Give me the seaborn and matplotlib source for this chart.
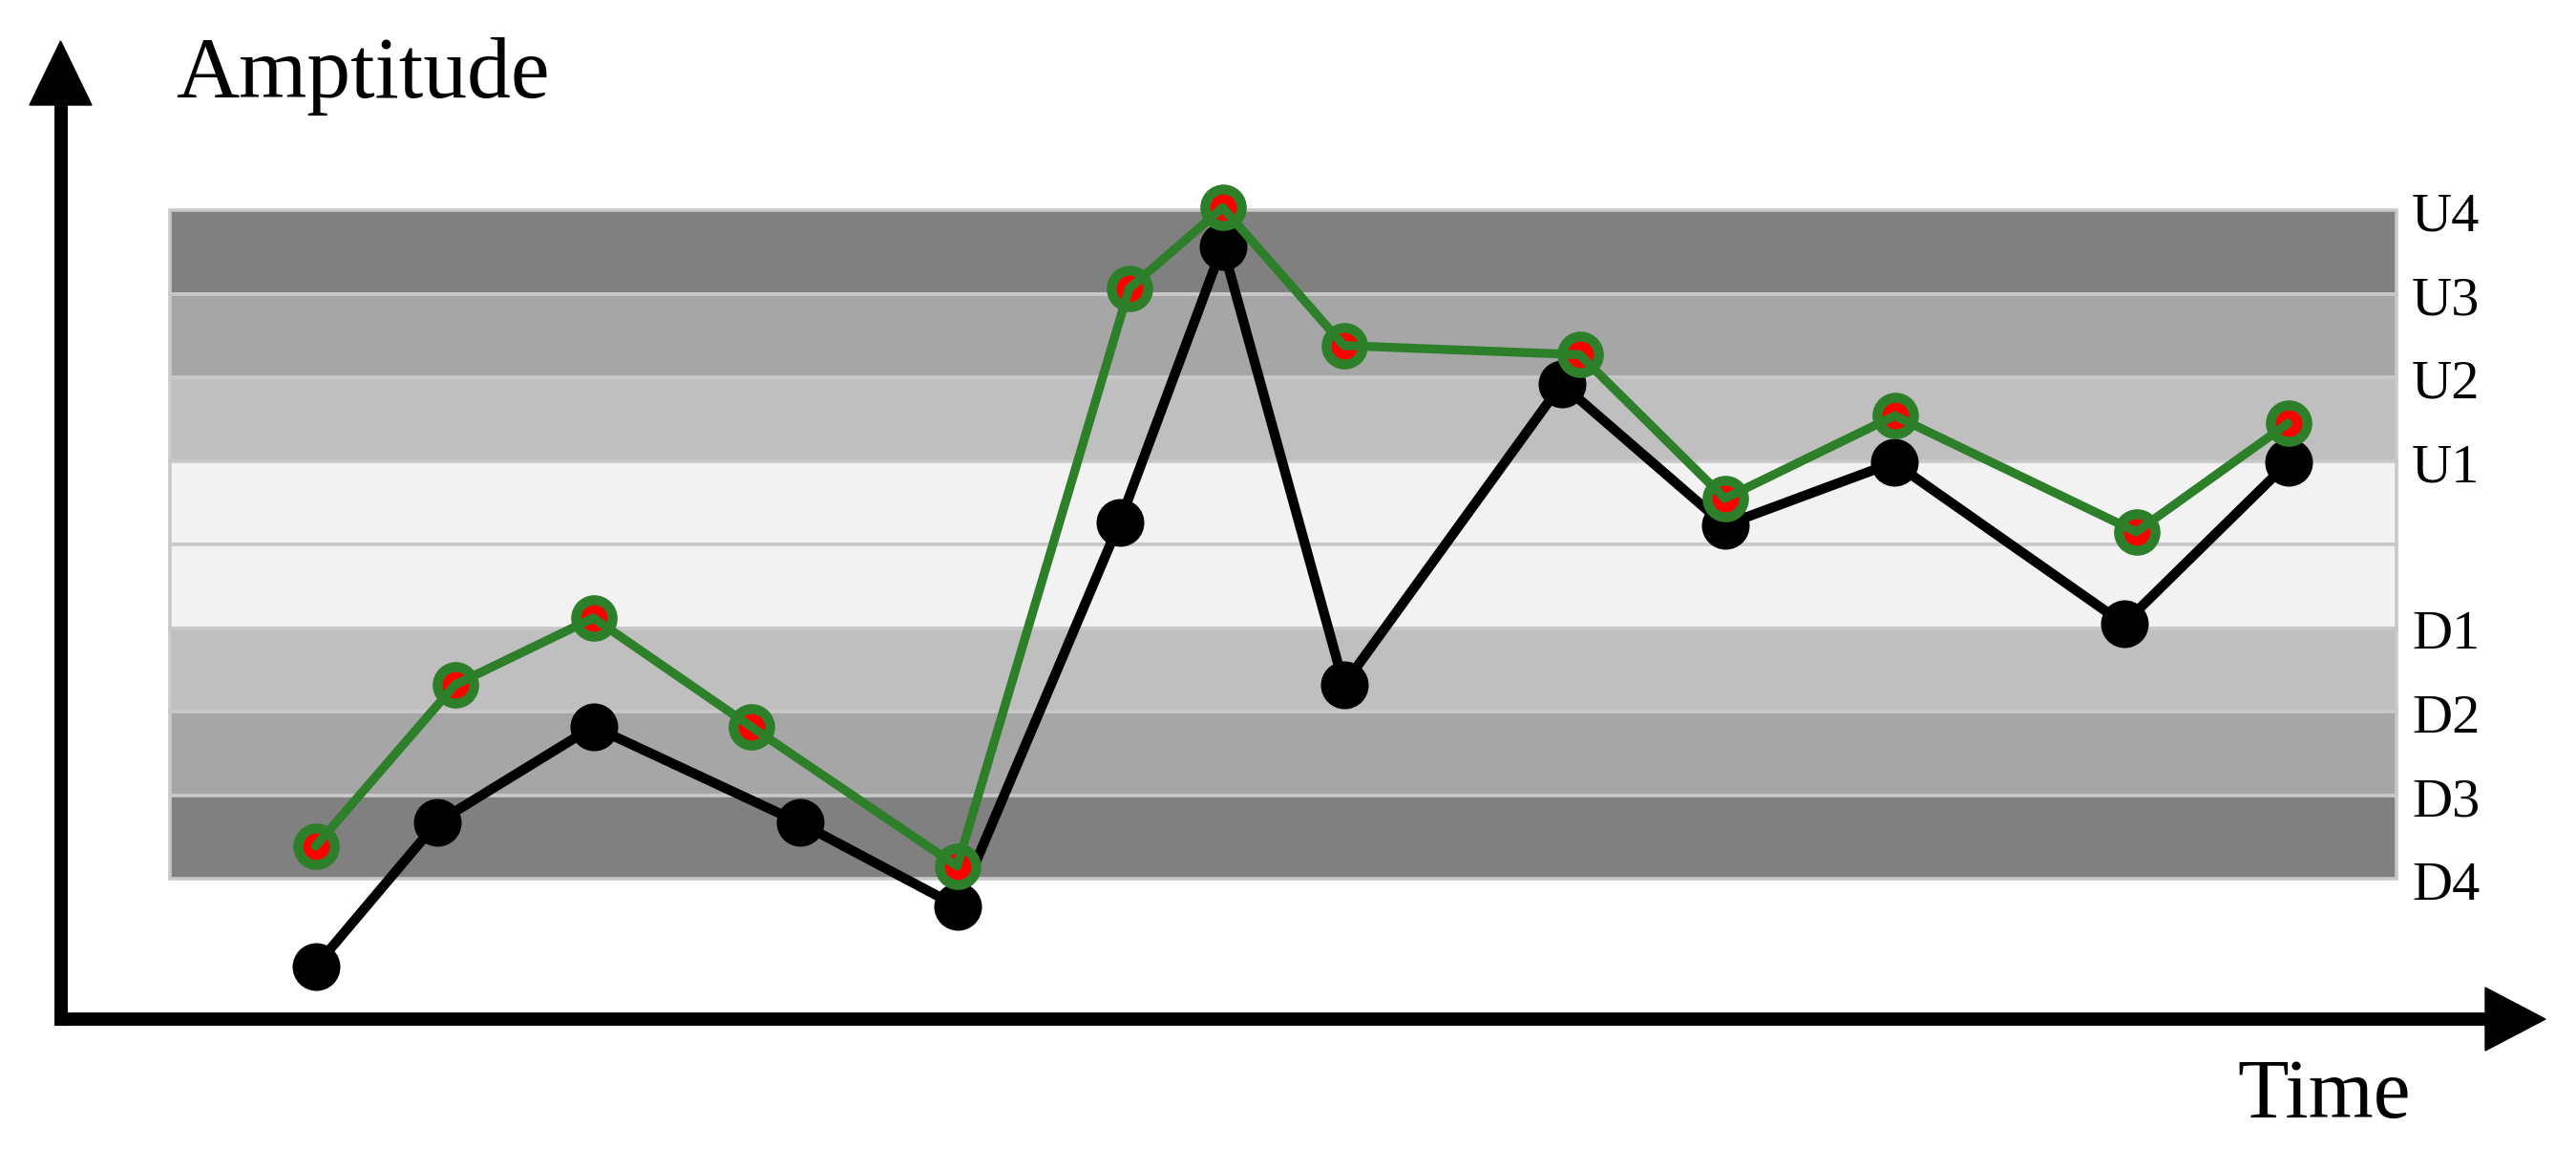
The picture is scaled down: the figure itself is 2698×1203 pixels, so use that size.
import numpy as np
import pandas as pd
import matplotlib
matplotlib.use("Agg")
import matplotlib.pyplot as plt
import seaborn as sns
from matplotlib.patches import Polygon

# ---------------- data ----------------
# time (arbitrary units) and amplitude (level units; band boundaries at integers)
time_black = [2.67, 3.94, 5.58, 7.74, 9.39, 11.09, 12.17, 13.44, 15.72, 17.43, 19.20, 21.61, 23.33]
amp_black = [-5.05, -3.33, -2.18, -3.33, -4.33, 0.26, 3.57, -1.68, 1.92, 0.23, 0.98, -0.95, 0.98]

time_green = [2.67, 4.13, 5.58, 7.23, 9.39, 11.19, 12.17, 13.44, 15.91, 17.43, 19.21, 21.74, 23.33]
amp_green = [-3.61, -1.68, -0.88, -2.18, -3.85, 3.06, 4.03, 2.38, 2.27, 0.55, 1.54, 0.15, 1.45]

level_names = ["U4", "U3", "U2", "U1", "D1", "D2", "D3", "D4"]
level_values = [4, 3, 2, 1, -1, -2, -3, -4]

band_lower = [3, 2, 1, 0, -1, -2, -3, -4]
band_colors = ["#808080", "#a6a6a6", "#bfbfbf", "#f2f2f2", "#f2f2f2", "#bfbfbf", "#a6a6a6", "#808080"]
band_start = 1.145
band_end = 24.465

x_label = "Time"
y_label = "Amptitude"

# ---------------- figure ----------------
sns.set_style("white")
plt.rcParams["font.family"] = ["Liberation Serif", "DejaVu Serif"]

W, H, DPI = 2698, 1203, 100
fig = plt.figure(figsize=(W / DPI, H / DPI), dpi=DPI)
ax = fig.add_axes([0, 0, 1, 1])

# pixel <-> data mapping (100 px per time unit, 87.5 px per level)
X0, UX = 63.5, 100.0
Y0, UY = 570.0, 87.5
ax.set_xlim((0 - X0) / UX, (W - X0) / UX)
ax.set_ylim((Y0 - H) / UY, (Y0 - 0) / UY)
ax.axis("off")

def px(x, y):
    return (x - X0) / UX, (Y0 - y) / UY

# bands
ax.barh(y=[b + 0.5 for b in band_lower], width=band_end - band_start, left=band_start,
        height=1.0, color=band_colors, edgecolor="#c8c8c8", linewidth=2.6, zorder=1)

# series
df_b = pd.DataFrame({"t": time_black, "a": amp_black})
df_g = pd.DataFrame({"t": time_green, "a": amp_green})

sns.lineplot(data=df_b, x="t", y="a", sort=False, estimator=None, color="black",
             linewidth=7.4, ax=ax, zorder=2)
sns.scatterplot(data=df_b, x="t", y="a", color="black", s=36 ** 2, linewidth=0,
                ax=ax, zorder=3)
sns.scatterplot(data=df_g, x="t", y="a", color="#ff0000", edgecolor="#2e7f2a",
                s=27.5 ** 2, linewidth=7.5, ax=ax, zorder=4)
sns.lineplot(data=df_g, x="t", y="a", sort=False, estimator=None, color="#2e7f2a",
             linewidth=6.7, ax=ax, zorder=5)

# level labels on the right
for name, val in zip(level_names, level_values):
    ax.text(24.625, val - 0.25, name, fontsize=42, ha="left", va="baseline", color="black")

# axes with arrows
ax.plot(*zip(px(57, 1067), px(2606, 1067)), color="black", lw=10, solid_capstyle="butt",
        zorder=6, clip_on=False)
ax.add_patch(Polygon([px(2603, 1034), px(2666, 1067), px(2603, 1100)], closed=True,
                     color="black", zorder=6, clip_on=False))
ax.plot(*zip(px(63.5, 1074), px(63.5, 104)), color="black", lw=10, solid_capstyle="butt",
        zorder=6, clip_on=False)
ax.add_patch(Polygon([px(31, 110), px(63.5, 43), px(96, 110)], closed=True,
                     color="black", zorder=6, clip_on=False))

# axis titles
tx, ty = px(184, 102)
ax.text(tx, ty, y_label, fontsize=66, ha="left", va="baseline", color="black")
tx, ty = px(2343, 1170)
ax.text(tx, ty, x_label, fontsize=63, ha="left", va="baseline", color="black")

fig.savefig("out.png", dpi=DPI)
